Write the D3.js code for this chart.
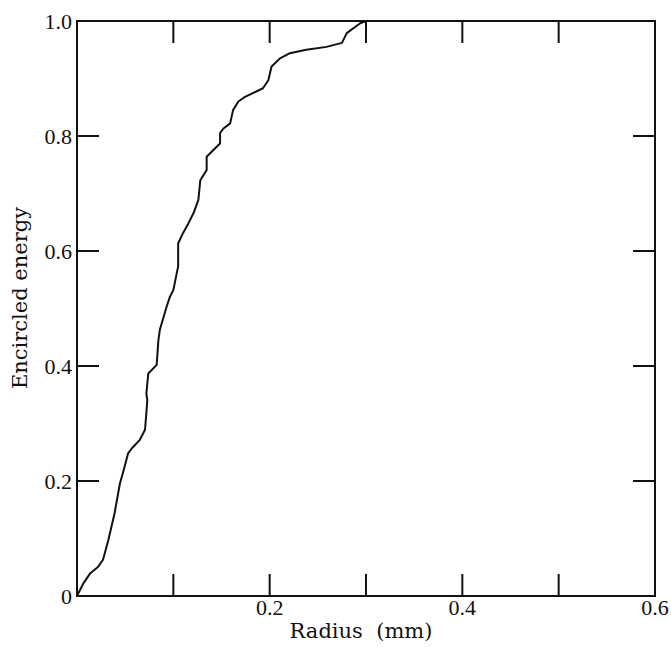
<!DOCTYPE html>
<html>
<head>
<meta charset="utf-8">
<script src="https://cdn.jsdelivr.net/npm/d3@7"></script>
<style>
  body { margin: 0; background: #fff; }
  text { fill: #111; }
  .num { font-family: "Liberation Serif", serif; font-size: 22px; }
  .title { font-family: "DejaVu Serif", serif; font-size: 21px; }
</style>
</head>
<body>
<div id="chart"></div>
<script>
// radius (mm) and encircled energy
var radius = [0, 0.0066, 0.0135, 0.022, 0.027, 0.0325, 0.039, 0.0446, 0.048, 0.053, 0.057,
  0.065, 0.0706, 0.072, 0.073, 0.072, 0.074, 0.0827, 0.0845, 0.086, 0.093, 0.0966, 0.100,
  0.1035, 0.105, 0.105, 0.110, 0.1156, 0.121, 0.126, 0.128, 0.1346, 0.1346, 0.140, 0.1485,
  0.1485, 0.152, 0.159, 0.162, 0.1675, 0.1744, 0.193, 0.1986, 0.202, 0.2107, 0.221, 0.238,
  0.259, 0.275, 0.280, 0.294, 0.300]
var energy = [0, 0.022, 0.039, 0.051, 0.063, 0.097, 0.144, 0.196, 0.216, 0.248, 0.257,
  0.271, 0.289, 0.318, 0.341, 0.352, 0.387, 0.402, 0.445, 0.463, 0.503, 0.521, 0.532,
  0.561, 0.573, 0.613, 0.631, 0.648, 0.666, 0.689, 0.723, 0.741, 0.764, 0.773, 0.787,
  0.805, 0.813, 0.822, 0.845, 0.860, 0.868, 0.883, 0.897, 0.921, 0.935, 0.944, 0.950,
  0.955, 0.962, 0.979, 0.996, 1.0]

var xTicks = [0.1, 0.2, 0.3, 0.4, 0.5]
var xLabels = [0.2, 0.4, 0.6]
var yTicks = [0, 0.2, 0.4, 0.6, 0.8, 1.0]

var margin = {top: 21, right: 16, bottom: 51, left: 77}
var width = 671 - margin.left - margin.right
var height = 647 - margin.top - margin.bottom

var x = d3.scaleLinear().domain([0, 0.6]).range([0, width])
var y = d3.scaleLinear().domain([0, 1]).range([height, 0])

var svg = d3.select("#chart").append("svg")
    .attr("width", 671)
    .attr("height", 647)

var g = svg.append("g")
    .attr("transform", "translate(" + margin.left + "," + margin.top + ")")

// frame
g.append("rect")
    .attr("width", width)
    .attr("height", height)
    .attr("fill", "none")
    .attr("stroke", "#111")
    .attr("stroke-width", 2)

var tickLen = 22

// x ticks, inward on bottom and top
g.selectAll(".xtb").data(xTicks).enter().append("line")
    .attr("x1", d => x(d)).attr("x2", d => x(d))
    .attr("y1", height).attr("y2", height - tickLen)
    .attr("stroke", "#111").attr("stroke-width", 2)
g.selectAll(".xtt").data(xTicks).enter().append("line")
    .attr("x1", d => x(d)).attr("x2", d => x(d))
    .attr("y1", 0).attr("y2", tickLen)
    .attr("stroke", "#111").attr("stroke-width", 2)

// y ticks, inward on left and right
g.selectAll(".ytl").data(yTicks.slice(1, 5)).enter().append("line")
    .attr("x1", 0).attr("x2", tickLen)
    .attr("y1", d => y(d)).attr("y2", d => y(d))
    .attr("stroke", "#111").attr("stroke-width", 2)
g.selectAll(".ytr").data(yTicks.slice(1, 5)).enter().append("line")
    .attr("x1", width).attr("x2", width - tickLen)
    .attr("y1", d => y(d)).attr("y2", d => y(d))
    .attr("stroke", "#111").attr("stroke-width", 2)

// tick labels
g.selectAll(".xl").data(xLabels).enter().append("text")
    .attr("class", "num")
    .attr("x", d => x(d))
    .attr("y", height + 19)
    .attr("text-anchor", "middle")
    .text(d => d3.format(".1f")(d))

g.selectAll(".yl").data(yTicks).enter().append("text")
    .attr("class", "num")
    .attr("x", -5)
    .attr("y", d => y(d) + 8)
    .attr("text-anchor", "end")
    .text(d => d === 0 ? "0" : d3.format(".1f")(d))

// axis titles
g.append("text")
    .attr("class", "title")
    .attr("x", 284)
    .attr("y", height + 42)
    .attr("text-anchor", "middle")
    .attr("xml:space", "preserve")
    .text("Radius  (mm)")

g.append("text")
    .attr("class", "title")
    .attr("transform", "translate(-50,277) rotate(-90)")
    .attr("text-anchor", "middle")
    .text("Encircled energy")

// the curve
var pts = radius.map((r, i) => [r, energy[i]])
var line = d3.line().x(d => x(d[0])).y(d => y(d[1]))

g.append("path")
    .datum(pts)
    .attr("d", line)
    .attr("fill", "none")
    .attr("stroke", "#111")
    .attr("stroke-width", 2)
    .attr("stroke-linejoin", "round")
</script>
</body>
</html>
